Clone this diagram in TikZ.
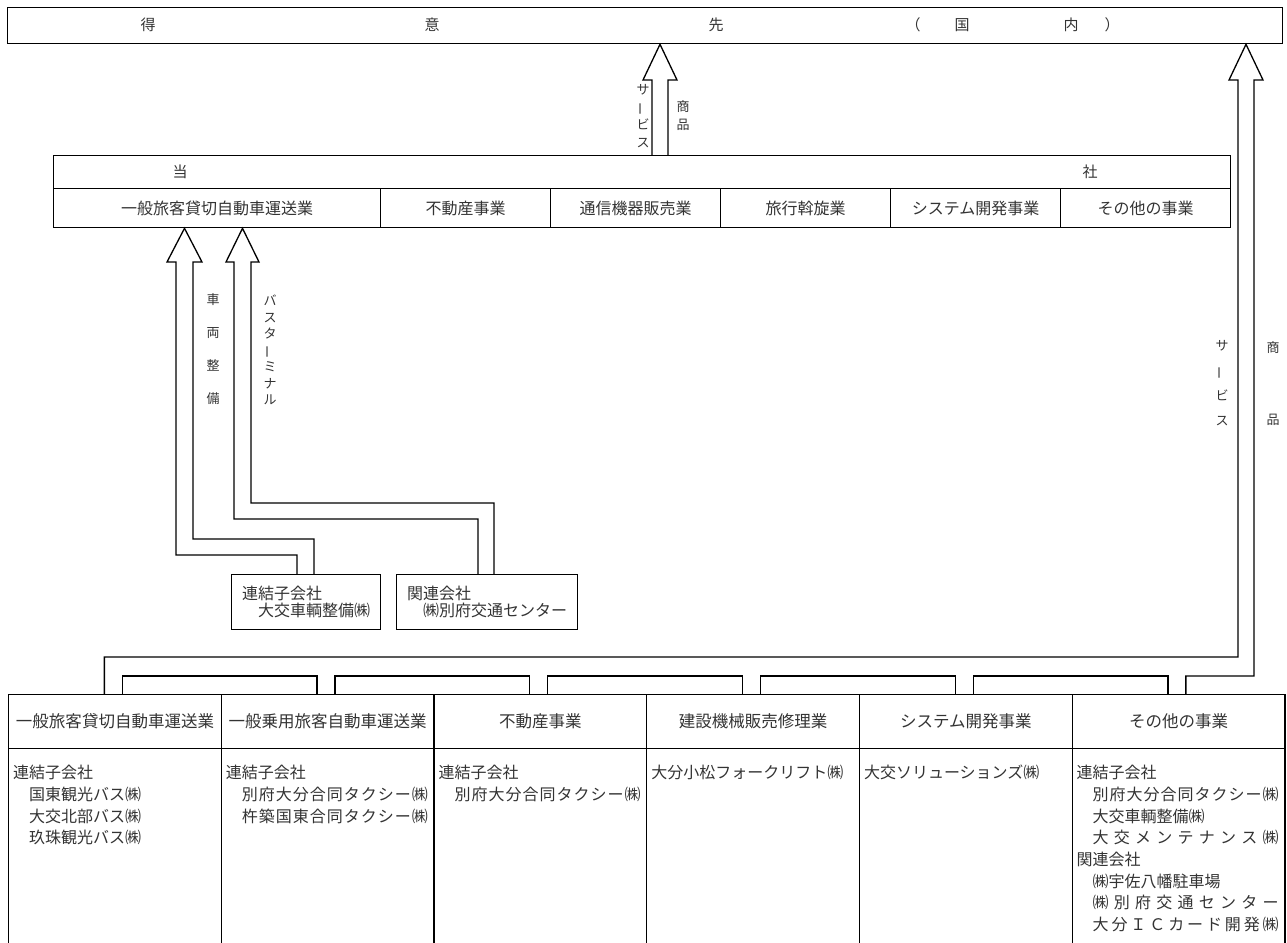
\documentclass[tikz,border=0pt]{standalone}
\usepackage{fontspec}
\setmainfont{Noto Sans CJK JP}
\newcommand{\spr}[2]{\makebox[#1][s]{\spaceskip=0pt plus 1fil #2}}
\newcommand{\vbar}{\rotatebox[origin=c]{90}{ー}}

\begin{document}
\begin{tikzpicture}[x=1pt,y=-1pt,
    box/.style={draw,line width=1.3pt,inner sep=0pt,anchor=north west,text=black!80,font=\fontsize{16}{17}\selectfont},
    txt/.style={inner sep=0pt,text=black!80,font=\fontsize{15}{18}\selectfont},
    vtxt/.style={inner sep=0pt,align=center,text=black!80},
    list/.style={inner sep=0pt,anchor=north west,align=left,text=black!80,font=\fontsize{16}{21.7}\selectfont},
    hollow/.style={line width=1.3pt}]
  \useasboundingbox (0,0) rectangle (1287,942);
  \clip (0,0) rectangle (1287,942);

  % 得意先（国内）
  \node[box,minimum width=1275pt,minimum height=36pt] (client) at (7,7) {};
  \foreach \xx/\ch in {148/得,432/意,716/先,913/（,962/国,1071/内,1112/）}
    \node[txt] (client-\xx) at (\xx,25) {\ch};

  % 当社
  \node[box,minimum width=1177pt,minimum height=33pt] (tosha) at (53,155) {};
  \node[txt] (tosha-l) at (180,172) {当};
  \node[txt] (tosha-r) at (1090,172) {社};
  \foreach \xx/\ww/\nm/\tx in {53/327/seg1/一般旅客貸切自動車運送業,380/170/seg2/不動産事業,550/170/seg3/通信機器販売業,720/170/seg4/旅行斡旋業,890/170/seg5/システム開発事業,1060/170/seg6/その他の事業}
    \node[box,minimum width=\ww pt,minimum height=39pt] (\nm) at (\xx,188) {\tx};

  \draw[hollow] (652,0 |- tosha.north) -- (652,80) -- (643,80) -- (660,0 |- client.south) -- (677,80) -- (668,80) -- (668,0 |- tosha.north);
  \node[vtxt,font=\fontsize{13}{17.5}\selectfont] (svc1) at (643,116) {サ\\\vbar\\ビ\\ス};
  \node[vtxt,font=\fontsize{13}{18}\selectfont] (goods1) at (683,116) {商\\品};

  % 子会社・関連会社
  \node[box,minimum width=149pt,minimum height=55pt,align=left] (subA) at (231,574) {連結子会社\\\hspace*{16pt}大交車輌整備㈱};
  \node[box,minimum width=181pt,minimum height=55pt,align=left] (subB) at (396,574) {関連会社\\\hspace*{16pt}㈱別府交通センター};

  \draw[hollow] (297,0 |- subA.north) |- (176,555) -- (176,262) -- (167,262) -- (184.5,0 |- seg1.south) -- (202,262) -- (193,262) |- (314,539) -- (314,0 |- subA.north);
  \draw[hollow] (478,0 |- subB.north) |- (234,519) -- (234,262) -- (226,262) -- (242.5,0 |- seg1.south) -- (259,262) -- (251,262) |- (494,503) -- (494,0 |- subB.north);
  \node[vtxt,font=\fontsize{13}{33}\selectfont] (maint) at (213,349) {車\\両\\整\\備};
  \node[vtxt,font=\fontsize{13}{16.5}\selectfont] (busterm) at (270,350) {バ\\ス\\タ\\\vbar\\ミ\\ナ\\ル};

  % セグメント表
  \foreach \i/\tx in {0/一般旅客貸切自動車運送業,1/一般乗用旅客自動車運送業,2/不動産事業,3/建設機械販売修理業,4/システム開発事業,5/その他の事業}{
    \node[box,minimum width=212.7pt,minimum height=54pt,font=\fontsize{16.5}{18}\selectfont] (head\i) at ({8+212.7*\i},694) {\tx};
    \node[box,minimum width=212.7pt,minimum height=230pt] (body\i) at ({8+212.7*\i},748) {};
  }
  \node[list] (list0) at ([shift={(5,17)}]body0.north west) {連結子会社\\\hspace*{16pt}国東観光バス㈱\\\hspace*{16pt}大交北部バス㈱\\\hspace*{16pt}玖珠観光バス㈱};
  \node[list] (list1) at ([shift={(5,17)}]body1.north west) {連結子会社\\\hspace*{16pt}\spr{186pt}{別 府 大 分 合 同 タ ク シ ー ㈱}\\\hspace*{16pt}\spr{186pt}{杵 築 国 東 合 同 タ ク シ ー ㈱}};
  \node[list] (list2) at ([shift={(5,17)}]body2.north west) {連結子会社\\\hspace*{16pt}\spr{186pt}{別 府 大 分 合 同 タ ク シ ー ㈱}};
  \node[list] (list3) at ([shift={(5,17)}]body3.north west) {大分小松フォークリフト㈱};
  \node[list] (list4) at ([shift={(5,17)}]body4.north west) {大交ソリューションズ㈱};
  \node[list] (list5) at ([shift={(5,17)}]body5.north west) {連結子会社\\\hspace*{16pt}\spr{186pt}{別 府 大 分 合 同 タ ク シ ー ㈱}\\\hspace*{16pt}大交車輌整備㈱\\\hspace*{16pt}\spr{186pt}{大 交 メ ン テ ナ ン ス ㈱}\\関連会社\\\hspace*{16pt}㈱宇佐八幡駐車場\\\hspace*{16pt}\spr{186pt}{㈱ 別 府 交 通 セ ン タ ー}\\\hspace*{16pt}\spr{186pt}{大 分 Ｉ Ｃ カ ー ド 開 発 ㈱}};

  % 得意先への矢印
  \draw[hollow] (104.35,0 |- head0.north) |- (1238,657) -- (1238,80) -- (1229,80) -- (1246,0 |- client.south) -- (1263,80) -- (1254,80) |- (1185.85,676) -- (1185.85,0 |- head5.north);
  \foreach \i in {0,...,4}
    \draw[hollow] ({122.35+212.7*\i},694) |- ({104.35+212.7*(\i+1)},676) -- ({104.35+212.7*(\i+1)},694);
  \node[vtxt,font=\fontsize{13}{25}\selectfont] (svc2) at (1222,383) {サ\\\vbar\\ビ\\ス};
  \node[vtxt,font=\fontsize{13}{72}\selectfont] (goods2) at (1273,384) {商\\品};
\end{tikzpicture}
\end{document}
